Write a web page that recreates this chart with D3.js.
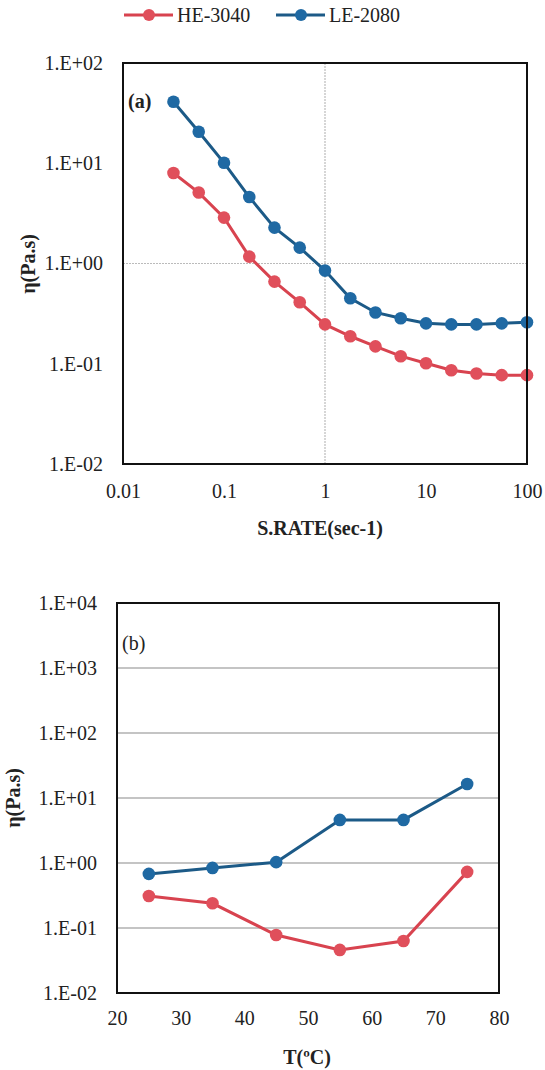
<!DOCTYPE html>
<html>
<head>
<meta charset="utf-8">
<script src="https://cdn.jsdelivr.net/npm/d3@7/dist/d3.min.js"></script>
<style>
  body { margin: 0; background: #fff; }
  .domain { display: none; }
</style>
</head>
<body>
<div id="chart"></div>
<script>
var width = 545;
var height = 1070;
var serif = "Liberation Serif, DejaVu Serif, serif";

// series names + colours
var seriesNames = ["HE-3040", "LE-2080"];
var lineColors = ["#d8434f", "#1c5a87"];
var dotColors = ["#e04f5b", "#1f69a3"];

// panel (a): viscosity vs shear rate
var shearRate = [0.0316, 0.0562, 0.1, 0.178, 0.316, 0.562, 1, 1.78, 3.16, 5.62, 10, 17.8, 31.6, 56.2, 100];
var heShear = [8.0, 5.1, 2.87, 1.17, 0.66, 0.41, 0.247, 0.188, 0.149, 0.119, 0.101, 0.086, 0.080, 0.077, 0.077];
var leShear = [41, 20.6, 10.1, 4.6, 2.28, 1.44, 0.85, 0.45, 0.325, 0.284, 0.253, 0.247, 0.247, 0.253, 0.259];
var rateTicks = [0.01, 0.1, 1, 10, 100];
var viscTicksA = [0.01, 0.1, 1, 10, 100];

// panel (b): viscosity vs temperature
var temps = [25, 35, 45, 55, 65, 75];
var heTemp = [0.31, 0.24, 0.078, 0.046, 0.063, 0.73];
var leTemp = [0.68, 0.84, 1.03, 4.6, 4.6, 16.4];
var tempTicks = [20, 30, 40, 50, 60, 70, 80];
var viscTicksB = [0.01, 0.1, 1, 10, 100, 1000, 10000];

var svg = d3.select("#chart")
    .append("svg")
    .attr("width", width)
    .attr("height", height)
    .attr("font-family", serif);

// excel style "1.E+02"
function sciFmt(d){
    var e = Math.round(Math.log10(d));
    var s = e < 0 ? "-" : "+";
    var a = Math.abs(e);
    return "1.E" + s + (a < 10 ? "0" + a : a);
}

// legend
var legend = svg.append("g").attr("id", "legend");
var legX = [124, 276];
seriesNames.forEach(function(name, i){
    var g = legend.append("g").attr("transform", "translate(" + legX[i] + ",15)");
    g.append("line").attr("x1", 0).attr("x2", 49).attr("y1", 0).attr("y2", 0)
        .attr("stroke", lineColors[i]).attr("stroke-width", 3);
    g.append("circle").attr("cx", 25).attr("cy", 0).attr("r", 6).attr("fill", dotColors[i]);
    g.append("text").attr("x", 53).attr("y", 7).attr("font-size", 20)
        .attr("font-family", serif).attr("fill", "#222").text(name);
});

function drawPanel(opt){
    var g = svg.append("g").attr("id", opt.id);
    var x = opt.x, y = opt.y;

    // gridlines
    g.append("g").selectAll("line")
        .data(opt.hGrid)
        .enter().append("line")
            .attr("x1", x.range()[0]).attr("x2", x.range()[1])
            .attr("y1", function(d){ return y(d); }).attr("y2", function(d){ return y(d); })
            .attr("stroke", opt.gridColor).attr("stroke-width", 1.2)
            .attr("stroke-dasharray", opt.gridDash);
    g.append("g").selectAll("line")
        .data(opt.vGrid)
        .enter().append("line")
            .attr("x1", function(d){ return x(d); }).attr("x2", function(d){ return x(d); })
            .attr("y1", y.range()[0]).attr("y2", y.range()[1])
            .attr("stroke", opt.gridColor).attr("stroke-width", 1.2)
            .attr("stroke-dasharray", opt.gridDash);

    // axes
    var xa = g.append("g")
        .attr("transform", "translate(0," + y.range()[0] + ")")
        .call(d3.axisBottom(x).tickValues(opt.xTicks).tickSize(0).tickPadding(opt.xPad).tickFormat(opt.xFmt));
    var ya = g.append("g")
        .attr("transform", "translate(" + x.range()[0] + ",0)")
        .call(d3.axisLeft(y).tickValues(opt.yTicks).tickSize(0).tickPadding(opt.yPad).tickFormat(sciFmt));
    [xa, ya].forEach(function(a){
        a.attr("font-family", serif).attr("font-size", 20);
        a.selectAll("text").attr("font-family", serif).attr("font-size", 20).attr("fill", "#222");
    });

    // series
    var line = d3.line()
        .x(function(d){ return x(d[0]); })
        .y(function(d){ return y(d[1]); });
    opt.series.forEach(function(vals, i){
        var pts = opt.xs.map(function(v, j){ return [v, vals[j]]; });
        g.append("path").datum(pts)
            .attr("fill", "none").attr("stroke", lineColors[i]).attr("stroke-width", 3)
            .attr("d", line);
        g.append("g").selectAll("circle")
            .data(pts)
            .enter().append("circle")
                .attr("cx", function(d){ return x(d[0]); })
                .attr("cy", function(d){ return y(d[1]); })
                .attr("r", 6.3)
                .attr("fill", dotColors[i]);
    });

    // frame
    g.append("rect")
        .attr("x", x.range()[0]).attr("y", y.range()[1])
        .attr("width", x.range()[1] - x.range()[0])
        .attr("height", y.range()[0] - y.range()[1])
        .attr("fill", "none").attr("stroke", "#111").attr("stroke-width", 2);

    // panel tag
    g.append("text")
        .attr("x", x.range()[0] + 5).attr("y", y.range()[1] + opt.tagDy)
        .attr("font-family", serif)
        .attr("font-size", 20).attr("font-weight", opt.tagBold ? "bold" : "normal")
        .attr("fill", "#222").text(opt.tag);

    // axis titles
    g.append("text")
        .attr("x", opt.xTitlePos[0]).attr("y", opt.xTitlePos[1])
        .attr("font-family", serif)
        .attr("text-anchor", "middle").attr("font-size", 20).attr("font-weight", "bold")
        .attr("fill", "#222").text(opt.xTitle);
    g.append("text")
        .attr("transform", "translate(" + opt.yTitlePos[0] + "," + opt.yTitlePos[1] + ") rotate(-90)")
        .attr("font-family", serif)
        .attr("text-anchor", "middle").attr("font-size", 20).attr("font-weight", "bold")
        .attr("fill", "#222").text("η(Pa.s)");
}

drawPanel({
    id: "panel-a",
    x: d3.scaleLog().domain([0.01, 100]).range([123, 527]),
    y: d3.scaleLog().domain([0.01, 100]).range([464, 63]),
    xs: shearRate,
    series: [heShear, leShear],
    xTicks: rateTicks,
    yTicks: viscTicksA,
    xFmt: function(d){ return String(d); },
    xPad: 20, yPad: 20,
    hGrid: [1], vGrid: [1],
    gridColor: "#bbb", gridDash: "2,1",
    tag: "(a)", tagBold: true, tagDy: 45,
    xTitle: "S.RATE(sec-1)", xTitlePos: [320, 535],
    yTitlePos: [35, 264]
});

drawPanel({
    id: "panel-b",
    x: d3.scaleLinear().domain([20, 80]).range([117, 499]),
    y: d3.scaleLog().domain([0.01, 10000]).range([993, 603]),
    xs: temps,
    series: [heTemp, leTemp],
    xTicks: tempTicks,
    yTicks: viscTicksB,
    xFmt: function(d){ return String(d); },
    xPad: 18, yPad: 20,
    hGrid: [0.1, 1, 10, 100, 1000], vGrid: [],
    gridColor: "#8a8a8a", gridDash: null,
    tag: "(b)", tagBold: false, tagDy: 47,
    xTitle: "T(ºC)", xTitlePos: [307, 1064],
    yTitlePos: [20, 798]
});
</script>
</body>
</html>
